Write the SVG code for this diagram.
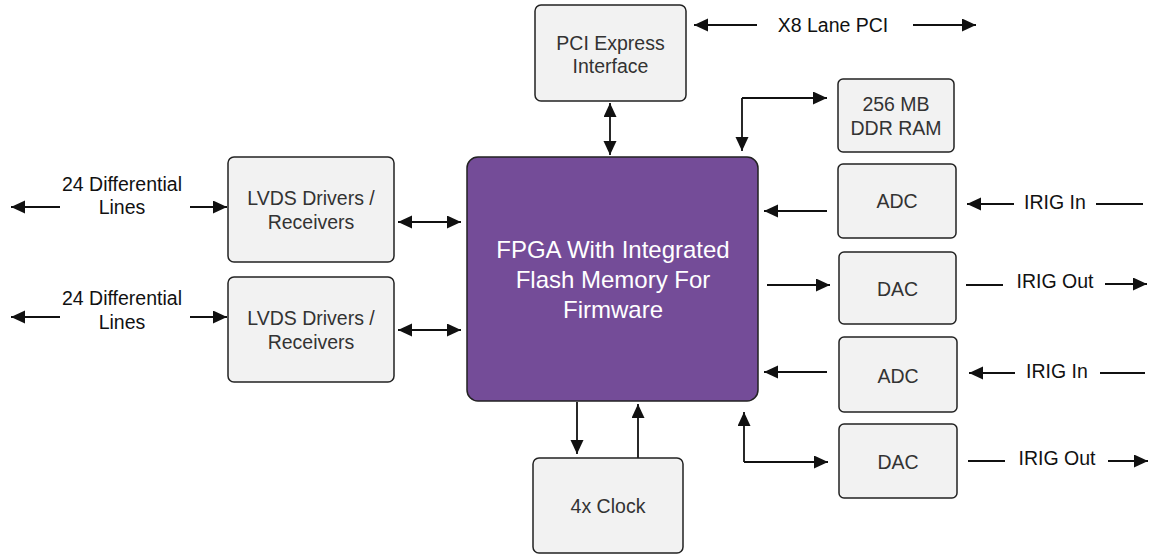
<svg xmlns="http://www.w3.org/2000/svg" width="1149" height="554" viewBox="0 0 1149 554">
<style>
.box{fill:#f2f2f2;stroke:#222;stroke-width:1.5}
.fpga{fill:#744c98;stroke:#222;stroke-width:1.5}
.t{font-family:"Liberation Sans",Arial,sans-serif;font-size:19.5px;fill:#333;text-anchor:middle}
.l{font-family:"Liberation Sans",Arial,sans-serif;font-size:19.5px;fill:#111;text-anchor:middle}
.w{font-family:"Liberation Sans",Arial,sans-serif;font-size:24px;fill:#fff;text-anchor:middle}
.c{fill:none;stroke:#111;stroke-width:1.8}
.a{marker-end:url(#ah)}
.d{marker-end:url(#ah);marker-start:url(#ah)}
</style>
<defs>
<marker id="ah" markerUnits="userSpaceOnUse" markerWidth="15" markerHeight="14" refX="14" refY="6.5" orient="auto-start-reverse">
<path d="M0,0 L14,6.5 L0,13 z" fill="#111"/>
</marker>
</defs>
<g id="connectors">
<path class="c a" d="M757,25 H694"/>
<path class="c a" d="M913,25 H976"/>
<path class="c d" d="M610,103 V155"/>
<path class="c a" d="M742,98 H827"/>
<path class="c a" d="M742,98 V151"/>
<path class="c a" d="M60,207 H11"/>
<path class="c a" d="M190,207 H227"/>
<path class="c a" d="M60,317 H11"/>
<path class="c a" d="M190,317 H227"/>
<path class="c d" d="M398,222 H461"/>
<path class="c d" d="M398,330 H461"/>
<path class="c a" d="M827,211 H764"/>
<path class="c a" d="M1014,204 H967"/>
<path class="c" d="M1096,204 H1143"/>
<path class="c a" d="M767,285 H830"/>
<path class="c" d="M966,285 H1003"/>
<path class="c a" d="M1105,284 H1147"/>
<path class="c a" d="M827,372 H764"/>
<path class="c a" d="M1015,373 H969"/>
<path class="c" d="M1100,373 H1145"/>
<path class="c a" d="M744,462 H828"/>
<path class="c a" d="M744,462 V412"/>
<path class="c" d="M968,461 H1005"/>
<path class="c a" d="M1108,461 H1148"/>
<path class="c a" d="M577,402 V454"/>
<path class="c a" d="M638,458 V404"/>
<text class="l" x="833" y="32">X8 Lane PCI</text>
<text class="l" x="122" y="191">24 Differential</text>
<text class="l" x="122" y="214">Lines</text>
<text class="l" x="122" y="305">24 Differential</text>
<text class="l" x="122" y="329">Lines</text>
<text class="l" x="1055" y="209">IRIG In</text>
<text class="l" x="1055" y="288">IRIG Out</text>
<text class="l" x="1057" y="378">IRIG In</text>
<text class="l" x="1057" y="465">IRIG Out</text>
</g>
<g id="pci"><rect class="box" x="535" y="5" width="151" height="96" rx="6"/><text class="t" x="610.5" y="50">PCI Express</text><text class="t" x="610.5" y="73">Interface</text></g>
<g id="ddr"><rect class="box" x="838" y="79" width="116" height="73" rx="5"/><text class="t" x="896" y="111">256 MB</text><text class="t" x="896" y="135">DDR RAM</text></g>
<g id="fpga"><rect class="fpga" x="467" y="157" width="291" height="244" rx="11"/><text class="w" x="613" y="258">FPGA With Integrated</text><text class="w" x="613" y="288">Flash Memory For</text><text class="w" x="613" y="318">Firmware</text></g>
<g id="lvds1"><rect class="box" x="228" y="157" width="166" height="105" rx="6"/><text class="t" x="311" y="205">LVDS Drivers /</text><text class="t" x="311" y="229">Receivers</text></g>
<g id="lvds2"><rect class="box" x="228" y="277" width="166" height="105" rx="6"/><text class="t" x="311" y="325">LVDS Drivers /</text><text class="t" x="311" y="349">Receivers</text></g>
<g id="adc1"><rect class="box" x="838" y="164" width="118" height="74" rx="5"/><text class="t" x="897" y="208">ADC</text></g>
<g id="dac1"><rect class="box" x="839" y="252" width="117" height="72" rx="5"/><text class="t" x="897.5" y="296">DAC</text></g>
<g id="adc2"><rect class="box" x="839" y="337" width="118" height="75" rx="5"/><text class="t" x="898" y="383">ADC</text></g>
<g id="dac2"><rect class="box" x="839" y="424" width="118" height="74" rx="5"/><text class="t" x="898" y="469">DAC</text></g>
<g id="clock"><rect class="box" x="533" y="458" width="150" height="95" rx="6"/><text class="t" x="608" y="513">4x Clock</text></g>
</svg>
